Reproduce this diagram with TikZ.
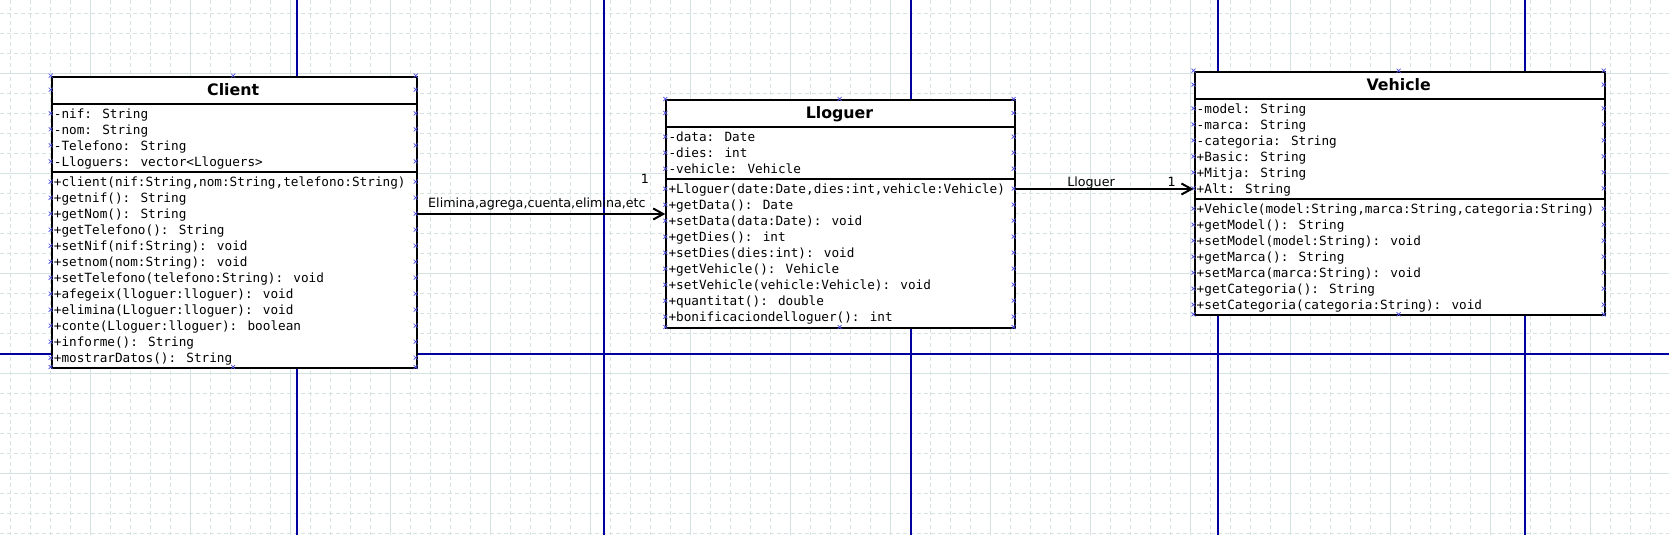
\documentclass[tikz,border=0pt]{standalone}
\usepackage{fontspec}
\setmainfont{DejaVu Sans}
\newfontfamily\monofont{DejaVu Sans Mono}
\usetikzlibrary{arrows.meta,calc}
\definecolor{gridc}{RGB}{212,226,226}
\definecolor{guide}{RGB}{0,0,160}
\definecolor{mkc}{RGB}{80,80,230}
\tikzset{
  classbox/.style={draw=black, line width=2pt, fill=white, inner sep=0pt, anchor=north west},
  sepline/.style={line width=2pt},
  clstitle/.style={font=\fontsize{15.8}{18}\selectfont\bfseries, inner sep=0pt, anchor=base},
  member/.style={font=\monofont\fontsize{12.7}{16}\selectfont, inner sep=0pt, anchor=base west},
  lbl/.style={font=\fontsize{12.7}{16}\selectfont, inner sep=0pt},
  assoc/.style={line width=2pt, -{Straight Barb[length=10pt,width=11pt]}},
  mk/.style={draw=mkc, line width=0.7pt},
  minorgrid/.style={draw=gridc, line width=1pt, dash pattern=on 4pt off 3pt},
  majorgrid/.style={draw=gridc, line width=1pt},
  guideline/.style={draw=guide, line width=1.2pt},
}
\begin{document}
\begin{tikzpicture}[x=1pt,y=-1pt]
\useasboundingbox (0,0) rectangle (1669,535);
\fill[white] (0,0) rectangle (1669,535);
% background grid
\foreach \gx in {10,30,...,1670} \draw[minorgrid] (\gx,0) -- (\gx,535);
\foreach \gy in {13.3,33.3,...,534} \draw[minorgrid] (0,\gy) -- (1669,\gy);
\foreach \gx in {90,190,...,1690} \draw[majorgrid] (\gx,0) -- (\gx,535);
\foreach \gy in {73.3,173.3,...,534} \draw[majorgrid] (0,\gy) -- (1669,\gy);
% guide lines
\foreach \gx in {297,604,911,1218,1525} \draw[guideline] (\gx,0) -- (\gx,535);
\draw[guideline] (0,354) -- (1669,354);

% ---------- Client ----------
\node[classbox, minimum width=365pt, minimum height=291.3pt] (client) at (50.7,75.7) {};
\draw[sepline] (client.west |- 0,103.7) -- (client.east |- 0,103.7);
\draw[sepline] (client.west |- 0,171.7) -- (client.east |- 0,171.7);
\node[clstitle] (client-t) at (233.2,95.5) {Client};
\foreach \t [count=\i from 0] in {{-nif: String},{-nom: String},{-Telefono: String},{-Lloguers: vector<Lloguers>}}
  \node[member] (client-a\i) at (53.7,118+16*\i) {\t};
\foreach \t [count=\i from 0] in {{+client(nif:String,nom:String,telefono:String)},{+getnif(): String},{+getNom(): String},{+getTelefono(): String},{+setNif(nif:String): void},{+setnom(nom:String): void},{+setTelefono(telefono:String): void},{+afegeix(lloguer:lloguer): void},{+elimina(Lloguer:lloguer): void},{+conte(Lloguer:lloguer): boolean},{+informe(): String},{+mostrarDatos(): String}}
  \node[member] (client-m\i) at (53.7,186.4+16*\i) {\t};

% ---------- Lloguer ----------
\node[classbox, minimum width=348.4pt, minimum height=228pt] (lloguer) at (665.3,99) {};
\draw[sepline] (lloguer.west |- 0,126.7) -- (lloguer.east |- 0,126.7);
\draw[sepline] (lloguer.west |- 0,178.7) -- (lloguer.east |- 0,178.7);
\node[clstitle] (lloguer-t) at (839.5,118.7) {Lloguer};
\foreach \t [count=\i from 0] in {{-data: Date},{-dies: int},{-vehicle: Vehicle}}
  \node[member] (lloguer-a\i) at (668.3,141.4+16*\i) {\t};
\foreach \t [count=\i from 0] in {{+Lloguer(date:Date,dies:int,vehicle:Vehicle)},{+getData(): Date},{+setData(data:Date): void},{+getDies(): int},{+setDies(dies:int): void},{+getVehicle(): Vehicle},{+setVehicle(vehicle:Vehicle): void},{+quantitat(): double},{+bonificaciondelloguer(): int}}
  \node[member] (lloguer-m\i) at (668.3,193.4+16*\i) {\t};

% ---------- Vehicle ----------
\node[classbox, minimum width=410.2pt, minimum height=243.6pt] (vehicle) at (1193.5,70.7) {};
\draw[sepline] (vehicle.west |- 0,98.7) -- (vehicle.east |- 0,98.7);
\draw[sepline] (vehicle.west |- 0,198.7) -- (vehicle.east |- 0,198.7);
\node[clstitle] (vehicle-t) at (1398.6,90.4) {Vehicle};
\foreach \t [count=\i from 0] in {{-model: String},{-marca: String},{-categoria: String},{+Basic: String},{+Mitja: String},{+Alt: String}}
  \node[member] (vehicle-a\i) at (1196.5,113.2+16*\i) {\t};
\foreach \t [count=\i from 0] in {{+Vehicle(model:String,marca:String,categoria:String)},{+getModel(): String},{+setModel(model:String): void},{+getMarca(): String},{+setMarca(marca:String): void},{+getCategoria(): String},{+setCategoria(categoria:String): void}}
  \node[member] (vehicle-m\i) at (1196.5,213.4+16*\i) {\t};

% ---------- connection markers ----------
\foreach \L/\R/\T/\B/\S/\A/\na/\M/\nm in {50.7/415.7/75.7/367/89.7/113.3/3/181.7/11, 665.3/1013.7/99/327/113/136.7/2/188.7/8, 1193.5/1603.7/70.7/314.3/84.7/108.3/5/208.7/6}{
  \foreach \yy in {\T,\S,\B}{
    \draw[mk] (\L,\yy) +(-2,-2) -- +(2,2) +(-2,2) -- +(2,-2);
    \draw[mk] (\R,\yy) +(-2,-2) -- +(2,2) +(-2,2) -- +(2,-2);
  }
  \foreach \i in {0,...,\na}{
    \draw[mk] (\L,\A+16*\i) +(-2,-2) -- +(2,2) +(-2,2) -- +(2,-2);
    \draw[mk] (\R,\A+16*\i) +(-2,-2) -- +(2,2) +(-2,2) -- +(2,-2);
  }
  \foreach \i in {0,...,\nm}{
    \draw[mk] (\L,\M+16*\i) +(-2,-2) -- +(2,2) +(-2,2) -- +(2,-2);
    \draw[mk] (\R,\M+16*\i) +(-2,-2) -- +(2,2) +(-2,2) -- +(2,-2);
  }
  \draw[mk] ({(\L+\R)/2},\T) +(-2,-2) -- +(2,2) +(-2,2) -- +(2,-2);
  \draw[mk] ({(\L+\R)/2},\B) +(-2,-2) -- +(2,2) +(-2,2) -- +(2,-2);
}

% ---------- connectors ----------
\coordinate (y1) at (0,214);
\coordinate (y2) at (0,189);
\draw[assoc] (client.east |- y1) -- (lloguer.west |- y1);
\node[lbl, anchor=base west] (lab1) at ($(client.east |- y1)+(10.3,-6.6)$) {Elimina,agrega,cuenta,elimina,etc};
\node[lbl, anchor=base] (mult1) at ($(lloguer.west |- y1)+(-20.3,-31)$) {1};
\draw[assoc] (lloguer.east |- y2) -- (vehicle.west |- y2);
\node[lbl, anchor=base] (lab2) at ($(lloguer.east |- y2)+(75.3,-3)$) {Lloguer};
\node[lbl, anchor=base] (mult2) at ($(vehicle.west |- y2)+(-21.8,-3)$) {1};
\end{tikzpicture}
\end{document}
